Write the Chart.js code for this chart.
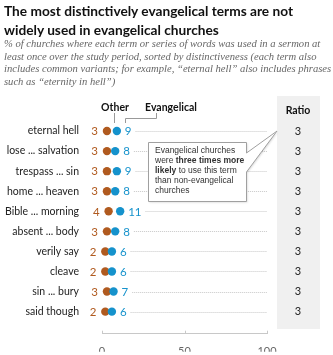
<!DOCTYPE html>
<html>
<head>
<meta charset="utf-8">
<script src="https://cdn.jsdelivr.net/npm/chart.js@4.4.0/dist/chart.umd.min.js"></script>
<style>
  body { margin: 0; background: #fff; }
  #wrap { position: relative; width: 333px; height: 355px; overflow: hidden; }
  #title { position: absolute; left: 4px; top: 1px; margin: 0; white-space: nowrap; font: bold 13.7px/19px Lato, sans-serif; color: #111; }
  #sub { position: absolute; left: 4px; top: 38px; margin: 0; white-space: nowrap; font: italic 10.6px/12.5px 'Liberation Serif', serif; color: #666; }
  canvas { position: absolute; left: 0; top: 0; }
</style>
</head>
<body>
<div id="wrap">
  <canvas id="chart" width="333" height="355"></canvas>
  <h1 id="title">The most distinctively evangelical terms are not<br>widely used in evangelical churches</h1>
  <p id="sub">% of churches where each term or series of words was used in a sermon at<br>least once over the study period, sorted by distinctiveness (each term also<br>includes common variants; for example, “eternal hell” also includes phrases<br>such as “eternity in hell”)</p>
</div>
<script>
// --- Data ---
const terms = ['eternal hell', 'lose ... salvation', 'trespass ... sin', 'home ... heaven', 'Bible ... morning',
               'absent ... body', 'verily say', 'cleave', 'sin ... bury', 'said though'];
const otherValues = [3, 3, 3, 3, 4, 3, 2, 2, 3, 2];
const evangelicalValues = [9, 8, 9, 8, 11, 8, 6, 6, 7, 6];
const ratioValues = [3, 3, 3, 3, 3, 3, 3, 3, 3, 3];
const xTicks = [0, 50, 100];

const BROWN = '#b05a1f';
const BLUE = '#1592cc';
const FONT = "Lato, 'Liberation Sans', sans-serif";
const FONT_W = "'Liberation Sans', Arial, sans-serif";

// --- Extra drawing: labels, gridlines, ratio column, callout ---
const extras = {
  id: 'extras',
  beforeDatasetsDraw(chart) {
    const ctx = chart.ctx;
    const x = chart.scales.x, y = chart.scales.y;
    ctx.save();

    // ratio column background
    ctx.fillStyle = '#f0f0f0';
    ctx.fillRect(277, 96, 43, 233);

    // dotted row lines, starting after the evangelical label
    ctx.font = '11.5px ' + FONT;
    ctx.strokeStyle = '#c8c8c8';
    ctx.lineWidth = 1;
    ctx.setLineDash([1, 1]);
    terms.forEach((t, i) => {
      const py = Math.round(y.getPixelForValue(i)) + 0.5;
      const start = x.getPixelForValue(evangelicalValues[i]) + 8 + ctx.measureText(String(evangelicalValues[i])).width + 4;
      ctx.beginPath();
      ctx.moveTo(start, py);
      ctx.lineTo(x.getPixelForValue(100), py);
      ctx.stroke();
    });
    ctx.setLineDash([]);

    // callout box with pointer
    ctx.fillStyle = '#fff';
    ctx.strokeStyle = '#a0a0a0';
    ctx.shadowColor = 'rgba(0,0,0,0.15)';
    ctx.shadowBlur = 2;
    ctx.shadowOffsetX = 1;
    ctx.shadowOffsetY = 1;
    ctx.beginPath();
    ctx.moveTo(148.5, 142.5);
    ctx.lineTo(246.5, 142.5);
    ctx.lineTo(246.5, 153);
    ctx.lineTo(277, y.getPixelForValue(0));
    ctx.lineTo(246.5, 172);
    ctx.lineTo(246.5, 201.5);
    ctx.lineTo(148.5, 201.5);
    ctx.closePath();
    ctx.fill();
    ctx.shadowColor = 'transparent';
    ctx.stroke();

    ctx.fillStyle = '#333';
    ctx.textAlign = 'left';
    ctx.textBaseline = 'middle';
    const lines = [
      [['Evangelical churches', false]],
      [['were ', false], ['three times more', true]],
      [['likely', true], [' to use this term', false]],
      [['than non-evangelical', false]],
      [['churches', false]]
    ];
    lines.forEach((parts, li) => {
      let px = 155;
      parts.forEach(([txt, bold]) => {
        ctx.font = (bold ? 'bold ' : '') + '8.5px ' + FONT_W;
        ctx.fillText(txt, px, 151 + li * 10);
        px += ctx.measureText(txt).width;
      });
    });
    ctx.restore();
  },
  afterDatasetsDraw(chart) {
    const ctx = chart.ctx;
    const x = chart.scales.x, y = chart.scales.y;
    ctx.save();
    ctx.textBaseline = 'middle';

    terms.forEach((t, i) => {
      const py = y.getPixelForValue(i);
      ctx.font = '11.5px ' + FONT;
      ctx.fillStyle = BROWN;
      ctx.textAlign = 'right';
      ctx.fillText(String(otherValues[i]), x.getPixelForValue(otherValues[i]) - 9, py + 0.5);
      ctx.fillStyle = BLUE;
      ctx.textAlign = 'left';
      ctx.fillText(String(evangelicalValues[i]), x.getPixelForValue(evangelicalValues[i]) + 8, py + 0.5);
      ctx.fillStyle = '#222';
      ctx.textAlign = 'center';
      ctx.font = '11px ' + FONT;
      ctx.fillText(String(ratioValues[i]), 298, py);
    });

    // column headers
    ctx.fillStyle = '#111';
    ctx.font = 'bold 10.5px ' + FONT;
    ctx.textAlign = 'center';
    ctx.fillText('Other', 115, 108);
    ctx.fillText('Evangelical', 171, 108);
    ctx.fillText('Ratio', 298, 111);

    // leader lines
    ctx.strokeStyle = '#999';
    ctx.lineWidth = 1;
    ctx.beginPath();
    ctx.moveTo(114.5, 113);
    ctx.lineTo(114.5, 123);
    ctx.moveTo(125.5, 123);
    ctx.lineTo(125.5, 118.5);
    ctx.lineTo(156.5, 118.5);
    ctx.lineTo(156.5, 113);
    ctx.stroke();

    // small upward ticks on x axis
    ctx.strokeStyle = '#c8c8c8';
    xTicks.forEach(v => {
      const px = Math.round(x.getPixelForValue(v)) + 0.5;
      ctx.beginPath();
      ctx.moveTo(px, y.bottom);
      ctx.lineTo(px, y.bottom - 3);
      ctx.stroke();
    });
    ctx.restore();
  }
};

new Chart(document.getElementById('chart'), {
  type: 'scatter',
  data: {
    datasets: [
      {
        label: 'Other',
        data: otherValues.map((v, i) => ({ x: v, y: i })),
        backgroundColor: BROWN,
        borderWidth: 0,
        pointRadius: 4.2,
        order: 2
      },
      {
        label: 'Evangelical',
        data: evangelicalValues.map((v, i) => ({ x: v, y: i })),
        backgroundColor: BLUE,
        borderWidth: 0,
        pointRadius: 4.2,
        order: 1
      }
    ]
  },
  options: {
    responsive: false,
    animation: false,
    clip: false,
    layout: { padding: { top: 121, right: 66, bottom: 0, left: 0 } },
    plugins: { legend: { display: false }, tooltip: { enabled: false } },
    scales: {
      x: {
        type: 'linear',
        min: 0,
        max: 100,
        afterBuildTicks: s => { s.ticks = xTicks.map(v => ({ value: v })); },
        afterFit: s => { s.height = 18; },
        grid: { display: false },
        border: { display: true, color: '#c8c8c8' },
        ticks: { color: '#666', font: { family: FONT, size: 11 }, padding: 3 }
      },
      y: {
        type: 'linear',
        reverse: true,
        min: -0.5,
        max: 10.1,
        afterBuildTicks: s => { s.ticks = terms.map((t, i) => ({ value: i })); },
        afterFit: s => { s.width = 102; },
        grid: { display: false },
        border: { display: false },
        ticks: {
          color: '#222',
          font: { family: FONT, size: 10.5 },
          padding: 15,
          callback: v => terms[v]
        }
      }
    }
  },
  plugins: [extras]
});
</script>
</body>
</html>
